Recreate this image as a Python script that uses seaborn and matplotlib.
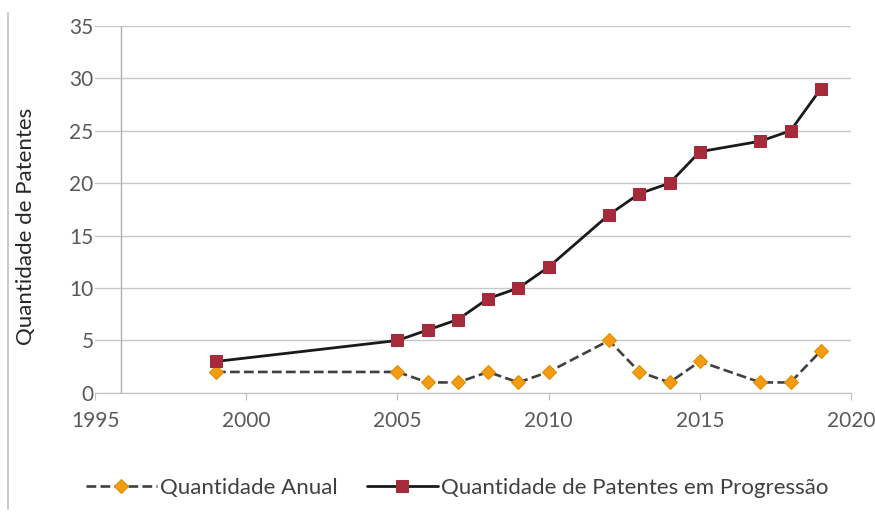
import numpy as np
import pandas as pd
import matplotlib
matplotlib.use('Agg')
import matplotlib.pyplot as plt
from matplotlib.lines import Line2D
import seaborn as sns

anos = [1999, 2005, 2006, 2007, 2008, 2009, 2010, 2012, 2013, 2014, 2015, 2017, 2018, 2019]
anual = [2, 2, 1, 1, 2, 1, 2, 5, 2, 1, 3, 1, 1, 4]
progressao = [3, 5, 6, 7, 9, 10, 12, 17, 19, 20, 23, 24, 25, 29]

df = pd.DataFrame({'Ano': anos, 'Anual': anual, 'Progressao': progressao})

sns.set_style('white')
plt.rcParams['font.family'] = ['Lato', 'DejaVu Sans']

fig = plt.figure(figsize=(8.75, 5.17), dpi=100)
ax = fig.add_axes([0.1086, 0.240, 0.864, 0.710])

gray = '#595959'
sns.lineplot(data=df, x='Ano', y='Anual', ax=ax, color='#404040', linestyle='--',
             linewidth=1.9, marker='D', markersize=7.5, markerfacecolor='#F39C12',
             markeredgecolor='#E08A00', label='Quantidade Anual', zorder=3)
sns.lineplot(data=df, x='Ano', y='Progressao', ax=ax, color='#1a1a1a', linewidth=2,
             marker='s', markersize=8.5, markerfacecolor='#A52A3A',
             markeredgecolor='#A52A3A', label='Quantidade de Patentes em Progressão',
             zorder=3)

ax.set_xlim(1995, 2020)
ax.set_ylim(0, 35)
ax.set_xticks(range(1995, 2021, 5))
ax.set_yticks(range(0, 36, 5))
ax.grid(axis='y', color='#c8c8c8', linewidth=1)
ax.set_axisbelow(True)
for s in ['top', 'right', 'left']:
    ax.spines[s].set_visible(False)
# vertical axis crosses a little after 1995, like the original
ax.axvline(1995.85, color='#b0b0b0', linewidth=1, zorder=1)
ax.spines['bottom'].set_color('#c0c0c0')
ax.tick_params(axis='x', colors=gray, labelsize=15, length=5, color='#c0c0c0',
               direction='out', bottom=True, pad=8)
ax.tick_params(axis='y', colors=gray, labelsize=15, length=0, pad=1)
ax.set_xlabel('')
ax.set_ylabel('')
fig.text(26 / 875, 1 - 226 / 517, 'Quantidade de Patentes', rotation=90,
         ha='center', va='center', fontsize=16, color='#262626')

ax.legend(loc='center', bbox_to_anchor=(0.479, -0.259), ncol=2, frameon=False,
          fontsize=16, handlelength=3.2, columnspacing=1.3, handletextpad=0.15,
          labelcolor='#404040')

fig.add_artist(Line2D([0.009, 0.009], [0.015, 0.975], color='#c0c0c0', linewidth=1.2))

fig.savefig('out.png', dpi=100)
